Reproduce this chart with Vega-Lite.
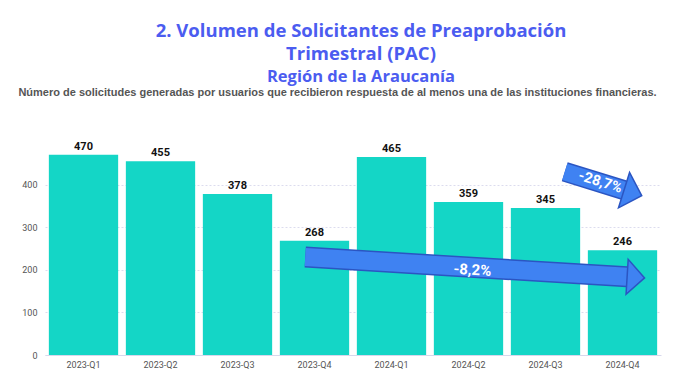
{
  "$schema": "https://vega.github.io/schema/vega-lite/v6.json",
  "width": 616,
  "height": 213,
  "autosize": {"type": "none"},
  "padding": {"left": 45, "top": 142, "right": 17, "bottom": 26},
  "background": "white",
  "config": {"view": {"stroke": null}},
  "title": {
    "text": ["2. Volumen de Solicitantes de Preaprobación", "Trimestral (PAC)"],
    "subtitle": "Región de la Araucanía",
    "font": "Open Sans",
    "fontSize": 18.5,
    "fontWeight": "bold",
    "lineHeight": 23,
    "color": "#4b5cf0",
    "subtitleFont": "Open Sans",
    "subtitleFontSize": 16.5,
    "subtitleFontWeight": "bold",
    "subtitleColor": "#4b5cf0",
    "subtitlePadding": 5,
    "anchor": "middle",
    "dx": 8,
    "offset": 1
  },
  "datasets": {
    "bars": [
      {"q": "2023-Q1", "v": 470},
      {"q": "2023-Q2", "v": 455},
      {"q": "2023-Q3", "v": 378},
      {"q": "2023-Q4", "v": 268},
      {"q": "2024-Q1", "v": 465},
      {"q": "2024-Q2", "v": 359},
      {"q": "2024-Q3", "v": 345},
      {"q": "2024-Q4", "v": 246}
    ],
    "bigShaft": [{"x": 3.38, "y": 230, "x2": 7.56, "y2": 183.5}],
    "smallShaft": [{"x": 6.75, "y": 430, "x2": 7.52, "y2": 387}],
    "bigHead": [{"x": 7.56, "y": 183.5}],
    "smallHead": [{"x": 7.52, "y": 387}],
    "bigLabel": [{"x": 5.55, "y": 200, "t": "-8,2%"}],
    "smallLabel": [{"x": 7.21, "y": 405, "t": "-28,7%"}]
  },
  "layer": [
    {
      "data": {"name": "bars"},
      "encoding": {
        "x": {
          "field": "q",
          "type": "ordinal",
          "sort": null,
          "scale": {"paddingInner": 0.1, "paddingOuter": 0.05},
          "axis": {
            "title": null,
            "labelAngle": 0,
            "labelFont": "Roboto",
            "labelFontSize": 9,
            "labelColor": "#555555",
            "labelPadding": 5,
            "ticks": false,
            "domainColor": "#d8d8ec",
            "grid": false
          }
        },
        "y": {
          "field": "v",
          "type": "quantitative",
          "scale": {"domain": [0, 500], "nice": false},
          "axis": {
            "title": null,
            "values": [0, 100, 200, 300, 400],
            "labelFont": "Roboto",
            "labelFontSize": 9,
            "labelColor": "#555555",
            "labelPadding": 8,
            "ticks": false,
            "domain": false,
            "grid": true,
            "gridColor": "#dcdcee",
            "gridDash": [2, 2]
          }
        }
      },
      "layer": [
        {"mark": {"type": "bar", "color": "#14d6c6"}},
        {
          "mark": {"type": "text", "dy": -8, "font": "Roboto", "fontSize": 11, "fontWeight": "bold", "color": "#111111"},
          "encoding": {"text": {"field": "v", "type": "quantitative"}}
        }
      ]
    },
    {
      "encoding": {
        "x": {
          "field": "x",
          "type": "quantitative",
          "scale": {"domain": [0, 8], "nice": false, "zero": false},
          "axis": {
            "orient": "top",
            "title": "Número de solicitudes generadas por usuarios que recibieron respuesta de al menos una de las instituciones financieras.",
            "titleFont": "Liberation Sans",
            "titleFontSize": 11,
            "titleFontWeight": "bold",
            "titleColor": "#555555",
            "titleX": 292,
            "titleY": -50,
            "titleAlign": "center",
            "titleBaseline": "middle",
            "labels": false,
            "ticks": false,
            "domain": false,
            "grid": false
          }
        },
        "y": {"field": "y", "type": "quantitative", "axis": null}
      },
      "layer": [
        {
          "data": {"name": "bigShaft"},
          "mark": {"type": "rule", "strokeWidth": 21, "color": "#2b55c2"},
          "encoding": {"x2": {"field": "x2"}, "y2": {"field": "y2"}}
        },
        {
          "data": {"name": "bigShaft"},
          "mark": {"type": "rule", "strokeWidth": 18, "color": "#3f82f2"},
          "encoding": {"x2": {"field": "x2"}, "y2": {"field": "y2"}}
        },
        {
          "data": {"name": "smallShaft"},
          "mark": {"type": "rule", "strokeWidth": 20, "color": "#2b55c2"},
          "encoding": {"x2": {"field": "x2"}, "y2": {"field": "y2"}}
        },
        {
          "data": {"name": "smallShaft"},
          "mark": {"type": "rule", "strokeWidth": 17, "color": "#3f82f2"},
          "encoding": {"x2": {"field": "x2"}, "y2": {"field": "y2"}}
        },
        {
          "data": {"name": "bigHead"},
          "mark": {"type": "point", "shape": "M1,0L0,-1L0,1Z", "size": 1225, "angle": 3.5, "filled": true, "fill": "#3f82f2", "stroke": "#2b55c2", "strokeWidth": 1.5, "opacity": 1}
        },
        {
          "data": {"name": "smallHead"},
          "mark": {"type": "point", "shape": "M1,0L0,-1L0,1Z", "size": 1369, "angle": 17.4, "filled": true, "fill": "#3f82f2", "stroke": "#2b55c2", "strokeWidth": 1.5, "opacity": 1}
        },
        {
          "data": {"name": "bigLabel"},
          "mark": {"type": "text", "angle": 3.5, "font": "Roboto", "fontSize": 15, "fontWeight": "bold", "color": "white"},
          "encoding": {"text": {"field": "t"}}
        },
        {
          "data": {"name": "smallLabel"},
          "mark": {"type": "text", "angle": 17.4, "font": "Roboto", "fontSize": 14.5, "fontWeight": "bold", "color": "white"},
          "encoding": {"text": {"field": "t"}}
        }
      ]
    }
  ],
  "resolve": {"scale": {"x": "independent"}, "axis": {"x": "independent", "y": "independent"}}
}
